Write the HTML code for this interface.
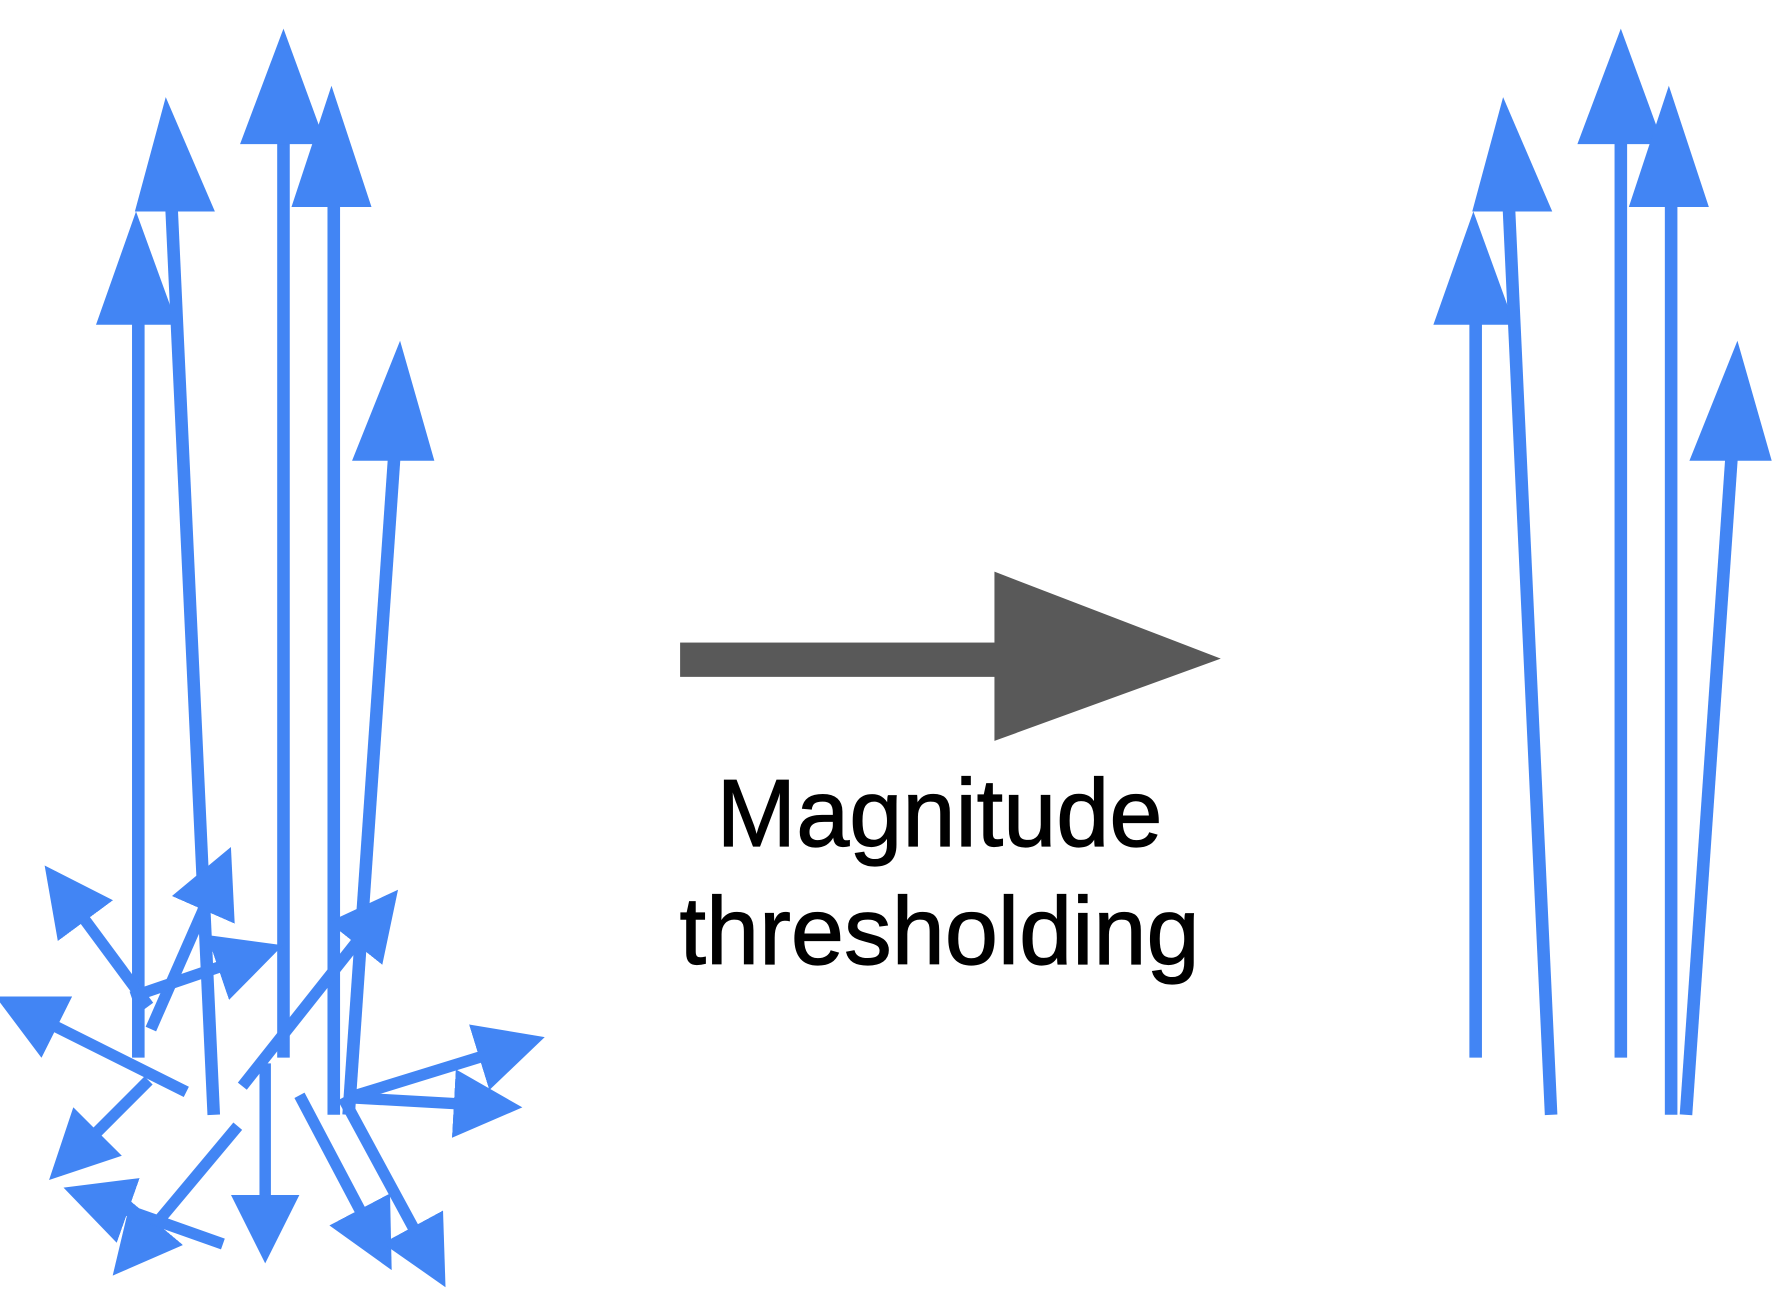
<!DOCTYPE html>
<html><head><style>html,body{margin:0;padding:0;background:#fff;}svg{display:block}</style></head>
<body>
<svg width="1774" height="1292" viewBox="0 0 1552 1130" preserveAspectRatio="none" xmlns="http://www.w3.org/2000/svg">
<defs>
<marker id="h" viewBox="0 0 60 60" markerWidth="60" markerHeight="60" refX="50" refY="30" markerUnits="userSpaceOnUse" orient="auto">
<path d="M0,0 L60,30 L0,60 z" fill="#4285f4"/>
</marker>
</defs>
<g id="big" stroke="#4285f4" stroke-width="11" fill="#4285f4">
<line x1="121" y1="925" x2="121" y2="280"/><polygon stroke="none" points="84,284 155,284 119,185"/>
<line x1="187" y1="975" x2="150" y2="180"/><polygon stroke="none" points="118,185 188,185 145,85"/>
<line x1="248" y1="925" x2="248" y2="120"/><polygon stroke="none" points="210,126 285,126 248,25"/>
<line x1="292" y1="975" x2="292" y2="175"/><polygon stroke="none" points="255,181 325,181 290,75"/>
<line x1="305" y1="975" x2="345" y2="398"/><polygon stroke="none" points="308,403 380,403 350,298"/>
</g>
<g stroke="#4285f4" stroke-width="10" marker-end="url(#h)">
<line x1="130" y1="880" x2="45" y2="765"/>
<line x1="132" y1="900" x2="198" y2="750"/>
<line x1="115" y1="872" x2="238" y2="830"/>
<line x1="163" y1="955" x2="5" y2="876"/>
<line x1="130" y1="945" x2="50" y2="1025"/>
<line x1="208" y1="985" x2="105" y2="1108"/>
<line x1="195" y1="1088" x2="65" y2="1042"/>
<line x1="232" y1="930" x2="232" y2="1095"/>
<line x1="262" y1="958" x2="338" y2="1102"/>
<line x1="300" y1="960" x2="385" y2="1117"/>
<line x1="212" y1="950" x2="342" y2="786"/>
<line x1="305" y1="960" x2="467" y2="910"/>
<line x1="305" y1="960" x2="447" y2="968"/>
</g>
<use href="#big" x="1170" y="0"/>
<rect x="595" y="562" width="276" height="30" fill="#595959"/>
<polygon points="870,500 870,648 1068,576" fill="#595959"/>
<text x="822" y="740" font-family="Liberation Sans, sans-serif" font-size="84" text-anchor="middle" fill="#000" stroke="#000" stroke-width="1" textLength="390" lengthAdjust="spacingAndGlyphs">Magnitude</text>
<text x="822" y="843" font-family="Liberation Sans, sans-serif" font-size="84" text-anchor="middle" fill="#000" stroke="#000" stroke-width="1" textLength="455" lengthAdjust="spacingAndGlyphs">thresholding</text>
</svg>
</body></html>
